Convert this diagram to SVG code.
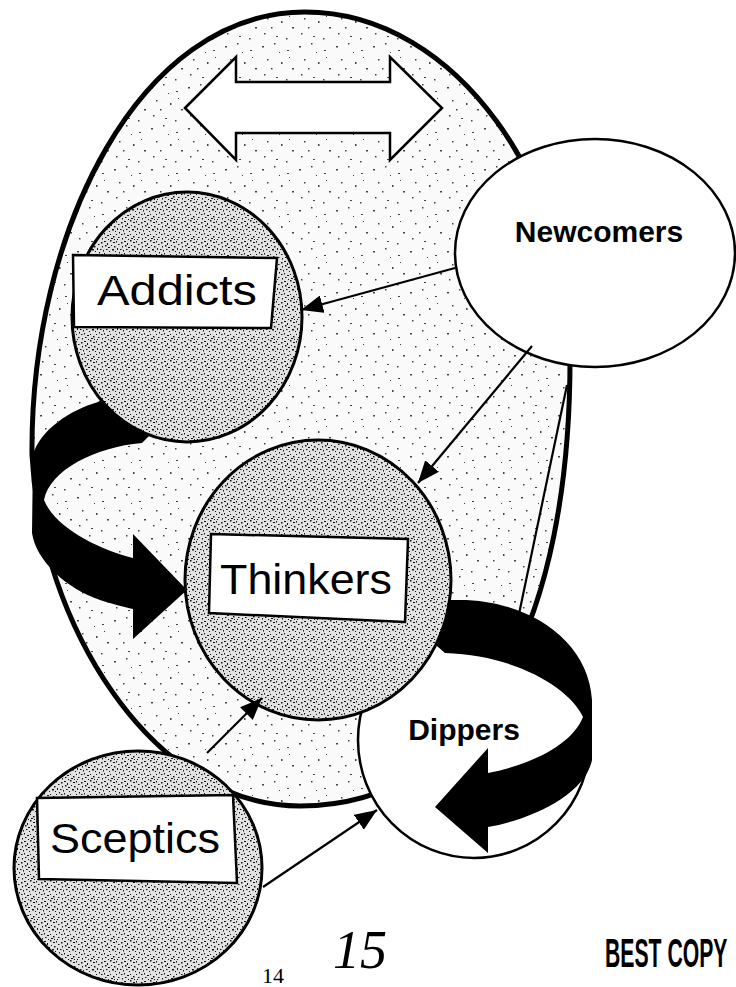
<svg xmlns="http://www.w3.org/2000/svg" width="736" height="987" viewBox="0 0 736 987">
<style>
.hand{font-family:"Liberation Sans","DejaVu Sans",sans-serif;font-size:42px;fill:#000}
.bold{font-family:"Liberation Sans","DejaVu Sans",sans-serif;font-weight:bold;font-size:30px;fill:#000}
.box{fill:#fff;stroke:#000;stroke-width:2.5}
.grp{fill:url(#dense);stroke:#000;stroke-width:3}
.wht{fill:#fff;stroke:#000;stroke-width:2.5}
.con{stroke:#000;stroke-width:2.2;fill:none}
.blk{fill:#000;stroke:none}
</style>
<defs>
<pattern id="light" width="37" height="41" patternUnits="userSpaceOnUse">
<rect width="37" height="41" fill="#fafafa"/>
<path fill="#444" d="M3,5h2v1.5h-2zM15,2h1.5v1.5h-1.5zM28,9h2v1h-2zM8,18h1.5v1.5h-1.5zM22,21h1.5v2h-1.5zM33,27h2v1.5h-2zM5,33h1.5v1.5h-1.5zM17,36h2v1h-2zM27,38h1.5v1.5h-1.5zM12,27h1.5v1.5h-1.5zM30,16h1v1h-1zM20,11h1v1h-1z"/>
</pattern>
<pattern id="dense" width="20" height="20" patternUnits="userSpaceOnUse">
<rect width="20" height="20" fill="#e2e2e2"/>
<path fill="#111" d="M1,2h1.5v1.5h-1.5zM4,1h2v1h-2zM7,3h1v2h-1zM10,0h1.5v1.5h-1.5zM13,2h2v1h-2zM16,1h1v1.5h-1zM18,4h1.5v1h-1.5zM2,6h1v1.5h-1zM5,5h1.5v1.5h-1.5zM8,7h2v1h-2zM11,5h1v1h-1zM14,6h1.5v1.5h-1.5zM17,8h1v2h-1zM0,9h1.5v1h-1.5zM3,10h1v1.5h-1zM6,9h1.5v1h-1.5zM9,11h1v1h-1zM12,9h2v1.5h-2zM15,11h1v1h-1zM19,12h1v1.5h-1zM1,14h1.5v1h-1.5zM4,13h1v1.5h-1zM7,15h2v1h-2zM10,14h1v1h-1zM13,16h1.5v1.5h-1.5zM16,14h1v1h-1zM18,17h1.5v1h-1.5zM2,18h1v1.5h-1zM5,17h1.5v1h-1.5zM8,19h1v1h-1zM11,18h2v1h-2zM14,19h1v1h-1zM17,19h1v1h-1z"/>
</pattern>
<marker id="ah" viewBox="0 0 22 18" refX="22" refY="9" markerWidth="22" markerHeight="18" markerUnits="userSpaceOnUse" orient="auto">
<path d="M0,0 L22,9 L0,18 Z" fill="#000"/>
</marker>
</defs>
<rect width="736" height="987" fill="#fff"/>

<g id="community">
<path d="M305,12 C460,12 572,190 570,350 C572,620 480,806 300,806 C150,806 40,620 32,455 C30,230 140,12 305,12 Z" fill="url(#light)" stroke="#000" stroke-width="5"/>
</g>

<g id="double-arrow">
<polygon points="185,108 236,57 236,82 390,82 390,57 442,108 390,160 390,133 236,133 236,160" fill="#fff" stroke="#000" stroke-width="2.5" stroke-linejoin="miter"/>
</g>

<g id="dippers">
<ellipse cx="474" cy="740" rx="116" ry="118" class="wht"/>
</g>

<g id="connectors-under">
<line x1="567" y1="385" x2="519" y2="614" class="con"/>
</g>

<g id="flow-thinkers-dippers">
<path class="blk" d="M430,600 L455,600 C520,598 588,635 592,700 L592,760 C585,795 530,820 488,827 L488,853 L435,807 L488,748 L488,773 C530,765 572,745 583,717 C570,688 515,655 445,653 L430,640 Z"/>
</g>

<g id="flow-addicts-thinkers">
<path class="blk" d="M120,385 L98,402 C70,410 40,430 33,455 L32,533 C36,560 65,588 100,600 C112,604 124,607 133,609 L133,639 L187,590 L133,534 L133,558 C100,550 55,528 44,500 C50,470 95,447 142,443 L160,425 Z"/>
</g>

<g id="addicts">
<ellipse cx="187" cy="317" rx="115" ry="125" class="grp"/>
<polygon points="73,255 277,258 271,328 74,327" class="box"/>
<text x="97" y="305" class="hand" textLength="160" lengthAdjust="spacingAndGlyphs">Addicts</text>
</g>

<g id="thinkers">
<ellipse cx="318" cy="580" rx="133" ry="140" class="grp"/>
<polygon points="211,534 408,539 405,622 209,613" class="box"/>
<text x="220" y="594" class="hand" textLength="172" lengthAdjust="spacingAndGlyphs">Thinkers</text>
</g>

<g id="sceptics">
<ellipse cx="138" cy="868" rx="124" ry="117" class="grp"/>
<polygon points="37,798 233,795 237,883 39,879" class="box"/>
<text x="50" y="853" class="hand" textLength="170" lengthAdjust="spacingAndGlyphs">Sceptics</text>
</g>

<g id="newcomers">
<ellipse cx="595" cy="253" rx="140" ry="114" class="wht"/>
<text x="599" y="242" class="bold" text-anchor="middle">Newcomers</text>
</g>

<g id="dippers-label">
<text x="464" y="740" class="bold" text-anchor="middle">Dippers</text>
</g>

<g id="connectors">
<line x1="455" y1="268" x2="301" y2="310" class="con" marker-end="url(#ah)"/>
<line x1="532" y1="346" x2="418" y2="483" class="con" marker-end="url(#ah)"/>
<line x1="207" y1="753" x2="262" y2="698" class="con" marker-end="url(#ah)"/>
<line x1="263" y1="887" x2="377" y2="810" class="con" marker-end="url(#ah)"/>
</g>

<g id="page-marks">
<text x="262" y="983" font-family="Liberation Serif, serif" font-size="22">14</text>
<text x="333" y="968" font-family="Liberation Serif, serif" font-style="italic" font-size="54">15</text>
<text transform="translate(605,967) scale(0.53,1)" x="0" y="0" font-family="Liberation Sans, sans-serif" font-weight="bold" font-size="40">BEST COPY</text>
</g>
</svg>
